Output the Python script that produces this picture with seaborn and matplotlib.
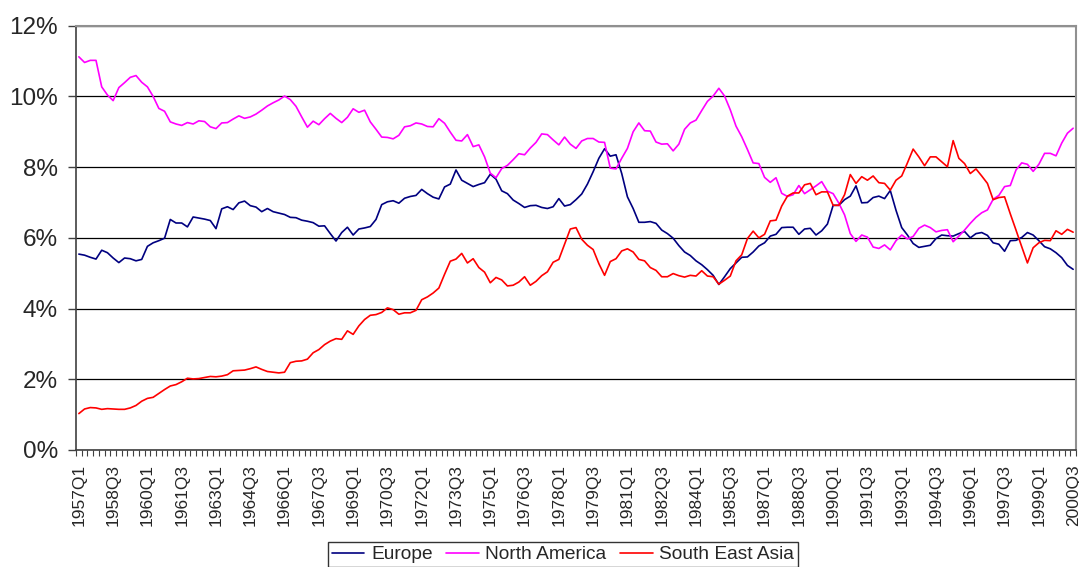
import matplotlib
matplotlib.use("Agg")
import matplotlib.pyplot as plt
from matplotlib.ticker import PercentFormatter, FixedLocator
from matplotlib.lines import Line2D
import numpy as np
import pandas as pd
import seaborn as sns

# quarters 1957Q1 .. 2000Q3
quarters = [f"{y}Q{q}" for y in range(1957, 2001) for q in range(1, 5)][:175]

europe = [
    5.54, 5.51, 5.45, 5.40, 5.65, 5.58, 5.43, 5.30, 5.43, 5.41, 5.35, 5.39, 5.76, 5.86, 5.92, 5.99, 6.52, 6.42, 6.42, 6.31, 6.59, 6.56, 6.53, 6.49, 6.26,
    6.82, 6.88, 6.80, 6.99, 7.04, 6.91, 6.87, 6.74, 6.83, 6.74, 6.70, 6.66, 6.58, 6.57, 6.50, 6.47, 6.43, 6.33, 6.34, 6.12, 5.91, 6.15, 6.30, 6.08, 6.25,
    6.28, 6.32, 6.52, 6.94, 7.02, 7.05, 6.98, 7.12, 7.17, 7.20, 7.37, 7.25, 7.15, 7.10, 7.44, 7.52, 7.92, 7.63, 7.54, 7.45, 7.51, 7.56, 7.80, 7.66, 7.33,
    7.25, 7.07, 6.97, 6.86, 6.91, 6.92, 6.86, 6.83, 6.88, 7.11, 6.90, 6.94, 7.08, 7.24, 7.52, 7.87, 8.25, 8.52, 8.31, 8.35, 7.82, 7.16, 6.83, 6.44, 6.44,
    6.46, 6.41, 6.22, 6.12, 5.99, 5.78, 5.60, 5.50, 5.35, 5.24, 5.10, 4.94, 4.68, 4.90, 5.13, 5.29, 5.45, 5.46, 5.60, 5.77, 5.86, 6.05, 6.10, 6.29, 6.30,
    6.30, 6.10, 6.25, 6.27, 6.08, 6.20, 6.39, 6.92, 6.92, 7.08, 7.18, 7.47, 6.99, 7.00, 7.14, 7.18, 7.11, 7.34, 6.78, 6.29, 6.08, 5.84, 5.73, 5.76, 5.79,
    5.98, 6.08, 6.06, 6.05, 6.12, 6.18, 6.00, 6.12, 6.15, 6.07, 5.86, 5.82, 5.62, 5.92, 5.93, 6.01, 6.15, 6.08, 5.92, 5.75, 5.69, 5.58, 5.44, 5.22, 5.11,
]

north_america = [
    11.12, 10.96, 11.02, 11.02, 10.27, 10.04, 9.88, 10.25, 10.39, 10.54, 10.59, 10.40, 10.27, 10.00, 9.66, 9.58, 9.28, 9.22, 9.18, 9.26, 9.22, 9.31, 9.29, 9.14, 9.09,
    9.25, 9.26, 9.36, 9.45, 9.38, 9.42, 9.50, 9.61, 9.73, 9.82, 9.90, 10.01, 9.91, 9.72, 9.42, 9.13, 9.30, 9.20, 9.37, 9.52, 9.38, 9.26, 9.41, 9.65, 9.55,
    9.61, 9.28, 9.07, 8.85, 8.84, 8.80, 8.90, 9.14, 9.17, 9.25, 9.22, 9.15, 9.14, 9.37, 9.24, 8.99, 8.76, 8.74, 8.92, 8.58, 8.63, 8.29, 7.83, 7.70, 7.96,
    8.05, 8.21, 8.38, 8.35, 8.54, 8.70, 8.94, 8.92, 8.77, 8.63, 8.85, 8.65, 8.53, 8.74, 8.81, 8.81, 8.71, 8.70, 7.97, 7.95, 8.25, 8.53, 9.00, 9.25, 9.03,
    9.02, 8.71, 8.65, 8.66, 8.46, 8.65, 9.07, 9.25, 9.33, 9.60, 9.86, 10.01, 10.23, 10.01, 9.62, 9.16, 8.86, 8.50, 8.12, 8.10, 7.71, 7.57, 7.70, 7.26, 7.17,
    7.22, 7.48, 7.25, 7.36, 7.47, 7.59, 7.32, 7.25, 6.98, 6.65, 6.12, 5.90, 6.08, 6.02, 5.74, 5.70, 5.80, 5.66, 5.92, 6.08, 5.97, 6.04, 6.27, 6.36, 6.29,
    6.17, 6.21, 6.23, 5.89, 6.05, 6.22, 6.41, 6.58, 6.71, 6.79, 7.09, 7.20, 7.45, 7.48, 7.92, 8.12, 8.08, 7.88, 8.08, 8.39, 8.39, 8.32, 8.68, 8.96, 9.10,
]

south_east_asia = [
    1.03, 1.16, 1.20, 1.19, 1.15, 1.17, 1.16, 1.15, 1.15, 1.19, 1.26, 1.38, 1.46, 1.49, 1.60, 1.71, 1.81, 1.85, 1.93, 2.03, 2.01, 2.02, 2.05, 2.08, 2.07,
    2.09, 2.13, 2.24, 2.25, 2.26, 2.30, 2.35, 2.28, 2.22, 2.20, 2.18, 2.20, 2.47, 2.51, 2.52, 2.57, 2.75, 2.84, 2.98, 3.08, 3.15, 3.13, 3.37, 3.27, 3.51,
    3.69, 3.81, 3.83, 3.89, 4.02, 3.97, 3.84, 3.88, 3.88, 3.95, 4.25, 4.33, 4.44, 4.58, 4.97, 5.34, 5.40, 5.56, 5.29, 5.41, 5.16, 5.03, 4.73, 4.88, 4.81,
    4.64, 4.66, 4.75, 4.90, 4.66, 4.77, 4.93, 5.04, 5.31, 5.39, 5.82, 6.25, 6.29, 5.96, 5.79, 5.67, 5.27, 4.94, 5.33, 5.41, 5.63, 5.69, 5.60, 5.39, 5.35,
    5.16, 5.08, 4.90, 4.90, 4.99, 4.93, 4.89, 4.94, 4.92, 5.07, 4.92, 4.90, 4.69, 4.80, 4.92, 5.35, 5.52, 5.98, 6.19, 6.00, 6.10, 6.48, 6.50, 6.90, 7.18,
    7.27, 7.27, 7.50, 7.54, 7.22, 7.30, 7.30, 6.92, 6.92, 7.22, 7.79, 7.54, 7.73, 7.63, 7.75, 7.56, 7.54, 7.35, 7.63, 7.75, 8.12, 8.51, 8.29, 8.04, 8.29,
    8.29, 8.15, 8.01, 8.75, 8.25, 8.10, 7.82, 7.95, 7.75, 7.54, 7.08, 7.14, 7.16, 6.68, 6.22, 5.75, 5.29, 5.72, 5.86, 5.93, 5.92, 6.20, 6.10, 6.24, 6.16,
]

series_names = ["Europe", "North America", "South East Asia"]
colors = {"Europe": "#000080", "North America": "#FF00FF", "South East Asia": "#FF0000"}

idx = np.arange(len(quarters))
df = pd.concat(
    [
        pd.DataFrame({"t": idx, "share": vals, "region": name})
        for name, vals in zip(series_names, [europe, north_america, south_east_asia])
    ],
    ignore_index=True,
)

sns.set_style("white")
plt.rcParams["font.family"] = ["Liberation Sans", "DejaVu Sans"]

fig = plt.figure(figsize=(10.79, 5.67), dpi=100)
ax = fig.add_axes([76 / 1079, 1 - 450 / 567, 1000 / 1079, (450 - 25.7) / 567])

sns.lineplot(data=df, x="t", y="share", hue="region", palette=colors,
             hue_order=series_names, linewidth=1.2, ax=ax, legend=False)

ax.set_xlim(-0.5, len(quarters) - 0.5)
ax.set_ylim(0, 12)
ax.set_xlabel("")
ax.set_ylabel("")

# y axis: every 2%, black gridlines
ax.set_yticks(np.arange(0, 13, 2))
ax.yaxis.set_major_formatter(PercentFormatter(xmax=100, decimals=0))
ax.grid(axis="y", color="black", linewidth=0.9)
ax.grid(axis="x", visible=False)
ax.tick_params(axis="y", which="major", direction="out", length=6, width=1,
               color="#404040", labelsize=17.5, pad=7, left=True)

# x axis: label every 6 quarters, tick marks between all quarters
label_pos = idx[::6]
ax.set_xticks(label_pos)
ax.set_xticklabels([quarters[i] for i in label_pos], rotation=90)
ax.xaxis.set_minor_locator(FixedLocator(np.arange(-0.5, len(quarters), 1.0)))
ax.tick_params(axis="x", which="major", length=0, labelsize=12.5, pad=10)
ax.tick_params(axis="x", which="minor", direction="out", length=4, width=0.8,
               color="#404040", bottom=True)

for side in ["top", "right"]:
    ax.spines[side].set_color("#909090")
    ax.spines[side].set_linewidth(1.5)
for side in ["left", "bottom"]:
    ax.spines[side].set_color("#404040")
    ax.spines[side].set_linewidth(1.2)

handles = [Line2D([0], [0], color=colors[n], lw=1.2) for n in series_names]
leg = fig.legend(handles, series_names, loc="upper center",
                 bbox_to_anchor=(563 / 1079, 1 - 542 / 567), ncol=3,
                 fontsize=13.8, frameon=True, fancybox=False, handlelength=1.7,
                 handletextpad=0.35, columnspacing=0.7, borderpad=0.2,
                 borderaxespad=0)
leg.get_frame().set_edgecolor("black")
leg.get_frame().set_linewidth(1.0)

fig.savefig("out.png", dpi=100)
plt.close(fig)
